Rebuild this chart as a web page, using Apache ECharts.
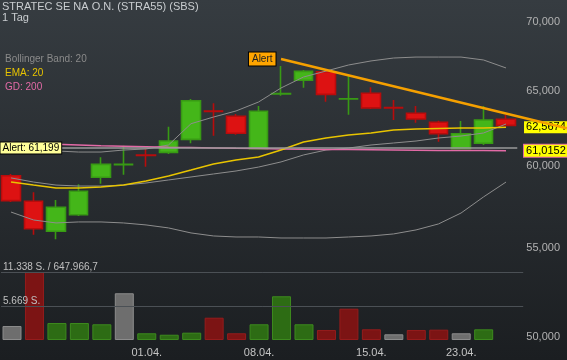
<!DOCTYPE html>
<html><head><meta charset="utf-8">
<script src="https://cdn.jsdelivr.net/npm/echarts@6/dist/echarts.min.js"></script>
<style>html,body{margin:0;padding:0;background:#2a2e32}#c{width:567px;height:360px}</style>
</head><body><div id="c"></div>
<script>
const dates = ['24.03.','25.03.','26.03.','27.03.','28.03.','31.03.','01.04.','02.04.','03.04.','04.04.','07.04.','08.04.','09.04.','10.04.','11.04.','14.04.','15.04.','16.04.','17.04.','22.04.','23.04.','24.04.','25.04.'];
const opens  = [59.41,57.81,55.99,56.99,59.31,60.12,60.73,60.91,61.76,63.65,63.30,61.15,64.83,65.78,66.38,64.49,64.87,63.89,63.50,62.90,61.15,61.50,63.10];
const closes = [57.85,56.14,57.44,58.43,60.13,60.13,60.71,61.65,64.36,63.63,62.16,63.64,64.85,66.41,64.80,64.50,63.87,63.87,63.12,62.13,62.13,63.05,62.69];
const lows   = [57.77,55.78,55.51,56.91,58.90,59.47,59.98,60.80,61.50,62.00,62.07,61.10,64.70,65.26,64.29,63.41,63.79,63.05,62.87,61.61,61.15,61.39,62.69];
const highs  = [59.52,58.37,57.89,58.87,60.59,61.34,61.13,62.60,64.48,64.18,63.45,64.00,66.79,66.50,66.45,66.08,65.29,64.41,64.00,63.00,62.98,64.00,63.39];
const volumes = [2330,11338,2830,2830,2620,7790,1120,880,1220,3720,1120,2620,7290,2620,1670,5220,1780,950,1670,1720,1120,1780,null];
const ema20    = [59.01,58.82,58.64,58.64,58.70,58.82,59.08,59.39,59.77,60.16,60.41,60.61,61.06,61.59,61.85,62.05,62.18,62.38,62.45,62.48,62.51,62.51,62.5674];
const gd200    = [61.553,61.487,61.435,61.389,61.343,61.310,61.278,61.245,61.219,61.193,61.173,61.154,61.134,61.114,61.101,61.088,61.075,61.062,61.049,61.036,61.029,61.022,61.0152];
const bbUpper  = [61.26,61.13,61.00,60.93,60.93,61.06,61.13,61.39,62.80,63.25,63.66,64.27,65.24,66.01,66.43,66.86,67.15,67.36,67.43,67.43,67.43,67.22,66.65];
const bbMiddle = [59.27,59.01,58.82,58.76,58.76,58.82,58.95,59.14,59.33,59.52,59.71,59.96,60.29,60.74,61.06,61.19,61.39,61.52,61.65,61.85,61.98,62.18,62.78];
const bbLower  = [57.15,56.67,56.49,56.55,56.55,56.49,56.37,56.19,55.89,55.71,55.65,55.65,55.59,55.59,55.59,55.65,55.71,55.83,56.07,56.43,57.09,58.08,59.01];
const alertLevel = 61.199;
const trendStart = [12, 67.29];
const trendEnd = [24.7, 62.50];
const priceTicks = [50, 55, 60, 65, 70];
const dateTicks = ['01.04.','08.04.','15.04.','23.04.'];
const volTicks = [5669, 11338];
const turnoverText = '647.966,7';
const titleText = 'STRATEC SE NA O.N. (STRA55) (SBS)';
const periodText = '1 Tag';

const fmtDe = (v, d) => v.toFixed(d).replace('.', ',');
const fmtThousands = n => String(n).replace(/\B(?=(\d{3})+(?!\d))/g, '.');
const xMin = -0.49, xMax = 24.71;
const idx = dates.map((d, i) => i);
const candleData = idx.map(i => [i, opens[i], closes[i], lows[i], highs[i]]);
const line = arr => arr.map((v, i) => [i, v]);
const volData = idx.map(i => {
  if (volumes[i] == null) return { value: [i, '-'] };
  let c = '#6e6e6e', b = '#8c8c8c';
  if (i > 0 && closes[i] > closes[i - 1]) { c = '#2d6c14'; b = '#3d8a1e'; }
  else if (i > 0 && closes[i] < closes[i - 1]) { c = '#7c1414'; b = '#951c1c'; }
  return { value: [i, volumes[i]], itemStyle: { color: c, borderColor: b, borderWidth: 1 } };
});
const FONT = 'Liberation Sans, Arial';

const chart = echarts.init(document.getElementById('c'), null, { renderer: 'canvas' });
chart.setOption({
  animation: false,
  backgroundColor: { type: 'linear', x: 0, y: 0, x2: 0, y2: 1, colorStops: [
    { offset: 0, color: '#363c41' }, { offset: 1, color: '#1b1e21' } ] },
  title: [
    { text: titleText + '\n' + periodText, left: 2, top: 1, padding: 0,
      textStyle: { color: '#c9cdd0', fontSize: 11, fontWeight: 'normal', fontFamily: FONT, lineHeight: 11 } },
    { text: 'Bollinger Band: 20', left: 5, top: 54, padding: 0,
      textStyle: { color: '#8a8a8a', fontSize: 10, fontWeight: 'normal', fontFamily: FONT } },
    { text: 'EMA: 20', left: 5, top: 68, padding: 0,
      textStyle: { color: '#e8c400', fontSize: 10, fontWeight: 'normal', fontFamily: FONT } },
    { text: 'GD: 200', left: 5, top: 82, padding: 0,
      textStyle: { color: '#e26aa6', fontSize: 10, fontWeight: 'normal', fontFamily: FONT } }
  ],
  grid: [
    { left: 0, right: 0, top: 22, bottom: 22.7 },
    { left: 0, right: 0, top: 272, bottom: 20 }
  ],
  xAxis: [
    { type: 'value', gridIndex: 0, min: xMin, max: xMax, show: false },
    { type: 'value', gridIndex: 1, min: xMin, max: xMax,
      axisLine: { show: false }, axisTick: { show: false }, splitLine: { show: false },
      axisLabel: { customValues: dateTicks.map(d => dates.indexOf(d)), formatter: v => dates[Math.round(v)] || '',
        color: '#c4c4c4', fontSize: 11, margin: 7, fontFamily: FONT } }
  ],
  yAxis: [
    { type: 'log', gridIndex: 0, min: priceTicks[0], max: priceTicks[priceTicks.length - 1], position: 'right',
      axisLine: { show: false }, axisTick: { show: false }, splitLine: { show: false },
      axisLabel: { inside: true, margin: 7, customValues: priceTicks, formatter: v => fmtDe(v, 3),
        color: '#b2b2b2', fontSize: 11, fontFamily: FONT } },
    { type: 'value', gridIndex: 1, min: 0, max: volTicks[1], position: 'left', z: 10,
      axisLine: { show: false }, axisTick: { show: false }, splitLine: { show: false },
      axisLabel: { inside: true, margin: 2, verticalAlign: 'bottom', customValues: volTicks,
        formatter: v => v === volTicks[1] ? fmtThousands(v) + ' S. / ' + turnoverText : fmtThousands(v) + ' S.',
        color: '#c0c0c0', fontSize: 10, fontFamily: FONT } }
  ],
  series: [
    { type: 'bar', xAxisIndex: 1, yAxisIndex: 1, barWidth: 19, data: volData, silent: true,
      markLine: { silent: true, symbol: ['none', 'none'], label: { show: false },
        lineStyle: { color: '#4b5055', width: 1, type: 'solid' },
        data: volTicks.map(v => [{ coord: [xMin, v] }, { coord: [22.76, v] }]) } },
    { type: 'line', xAxisIndex: 0, yAxisIndex: 0, data: line(bbUpper), showSymbol: false, silent: true,
      lineStyle: { color: '#8d8d8d', width: 1 } },
    { type: 'line', xAxisIndex: 0, yAxisIndex: 0, data: line(bbMiddle), showSymbol: false, silent: true,
      lineStyle: { color: '#8d8d8d', width: 1 },
      markLine: { silent: true, symbol: ['none', 'none'], label: { show: false },
        lineStyle: { color: '#9a9a9a', width: 1.5, type: 'solid' },
        data: [[{ coord: [xMin, alertLevel] }, { coord: [22.5, alertLevel] }]] },
      markPoint: { silent: true, symbol: 'rect', symbolSize: 1, itemStyle: { color: 'rgba(0,0,0,0)' },
        data: [{ coord: [xMin, alertLevel], label: { show: true, position: 'right', distance: 0,
          formatter: 'Alert: ' + fmtDe(alertLevel, 3),
          backgroundColor: '#ffff99', borderColor: '#000', borderWidth: 1, padding: [1, 2, 0, 2],
          color: '#000', fontSize: 10, fontFamily: FONT } }] } },
    { type: 'line', xAxisIndex: 0, yAxisIndex: 0, data: line(bbLower), showSymbol: false, silent: true,
      lineStyle: { color: '#8d8d8d', width: 1 } },
    { type: 'line', xAxisIndex: 0, yAxisIndex: 0, data: line(gd200), showSymbol: false, silent: true,
      lineStyle: { color: '#e26aa6', width: 1.5 },
      endLabel: { show: true, distance: 18, formatter: fmtDe(gd200[gd200.length - 1], 4),
        backgroundColor: '#ffff00', borderColor: '#e26aa6', borderWidth: 1, padding: [1, 2, 0, 2],
        color: '#000', fontSize: 11, fontFamily: FONT } },
    { type: 'line', xAxisIndex: 0, yAxisIndex: 0, data: line(ema20), showSymbol: false, silent: true,
      lineStyle: { color: '#e8c400', width: 1.5 },
      endLabel: { show: true, distance: 18, formatter: fmtDe(ema20[ema20.length - 1], 4),
        backgroundColor: '#ffff00', padding: [1, 2, 0, 2],
        color: '#000', fontSize: 11, fontFamily: FONT } },
    { type: 'candlestick', xAxisIndex: 0, yAxisIndex: 0, data: candleData, encode: { x: 0, y: [1, 2, 3, 4] },
      barWidth: 19, silent: true,
      itemStyle: { color: '#44b619', color0: '#dd1212', borderColor: '#389a14', borderColor0: '#b80c0c', borderWidth: 1.6 },
      markLine: { silent: true, symbol: ['none', 'none'], label: { show: false },
        lineStyle: { color: '#f5a000', width: 2.5, type: 'solid' },
        data: [[{ coord: trendStart }, { coord: trendEnd }]] },
      markPoint: { silent: true, symbol: 'rect', symbolSize: 1, itemStyle: { color: 'rgba(0,0,0,0)' },
        data: [{ coord: trendStart, label: { show: true, position: 'left', distance: 5, formatter: 'Alert',
          backgroundColor: '#ffa500', borderColor: '#000', borderWidth: 1, padding: [2, 3, 1, 3],
          color: '#222', fontSize: 10, fontFamily: FONT } }] } }
  ]
});
</script></body></html>
